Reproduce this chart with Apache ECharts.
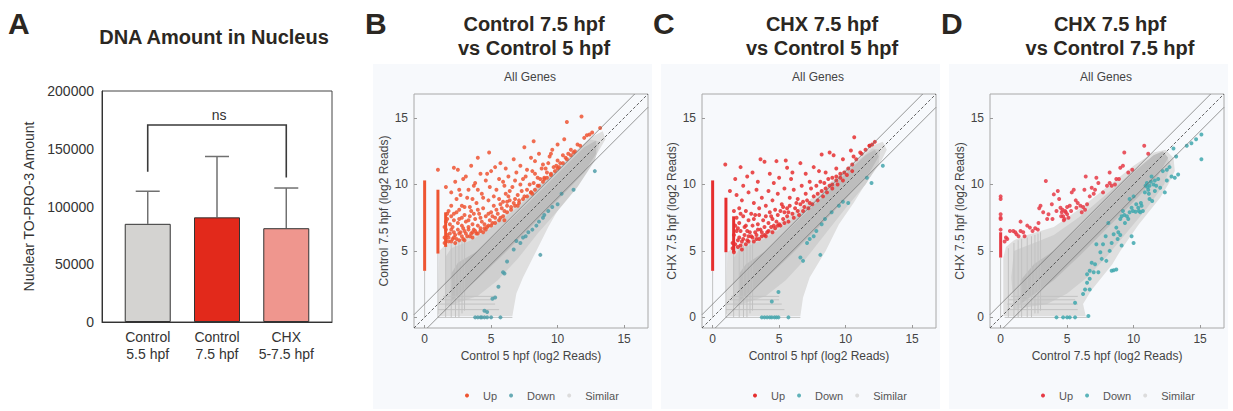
<!DOCTYPE html>
<html>
<head>
<meta charset="utf-8">
<script src="https://cdn.jsdelivr.net/npm/echarts@6/dist/echarts.min.js"></script>
<style>
  html, body { margin: 0; background: #fff; }
  #chart { width: 1233px; height: 411px; }
</style>
</head>
<body>
<div id="chart"></div>
<script>
// ---- panel A : DNA amount bars ----
const barCats = ['Control\n5.5 hpf', 'Control\n7.5 hpf', 'CHX\n5-7.5 hpf'];
const barMeans = [85000, 90600, 81200];
const barErrTop = [113200, 143300, 116000];
const barColors = ['#d4d3d1', '#e2291b', '#ef968e'];
const nsBracket = [[1, 130000], [1, 170500], [3, 170500], [3, 125200]];
const nsLabelAt = [2.03, 179000];

// ---- scatter panels: axis range and guide lines (y = x + k) ----
const LOG_MIN = -0.8, LOG_MAX = 16.8;
const logTicks = [0, 5, 10, 15];
const diagOffsets = [1, 0, -1];

// ---- panel B: Control 7.5 vs Control 5 ----
const bOuter = [[1.2,0.1],[6.6,0.1],[6.9,1.8],[7.4,3.0],[8.4,5.0],[9.3,6.8],[10.1,8.2],[11.0,9.5],[12.0,10.8],[12.9,12.2],[13.6,13.4],[13.4,14.0],[12.6,13.6],[11.0,12.2],[9.0,10.4],[7.0,8.6],[6.0,7.8],[5.0,7.1],[4.0,6.5],[3.0,6.0],[2.0,5.6],[1.5,5.4],[1.1,5.0],[1.0,0.3]];
const bMid = [[1.6,0.8],[4.0,1.6],[5.5,2.8],[7.0,4.4],[8.5,6.3],[10.0,8.0],[11.5,9.8],[12.8,11.8],[13.2,13.2],[12.4,13.4],[11.0,12.0],[9.0,10.2],[7.0,8.3],[5.0,6.7],[3.5,5.8],[2.0,5.2],[1.6,4.6]];
const bCore = [[2.0,1.2],[4.0,2.9],[6.0,4.8],[8.0,6.8],[10.0,8.8],[12.0,10.9],[12.9,12.3],[12.9,13.3],[12.0,12.8],[10.0,10.8],[8.0,8.8],[6.0,6.9],[4.0,5.0],[2.5,4.1],[2.0,3.3]];
const bStreakV = [[0,0,3.5],[1,0,5.0],[1.58,0,5.3],[2,0,5.5],[2.32,0,5.6],[2.58,0,5.7],[2.81,0.3,5.8],[3,0.5,5.9]];
const bStreakH = [[0,1,6.6],[0.58,1,5.6],[1,1,5.3],[1.32,1.2,5.0],[1.58,1.4,5.2]];
const bUpCols = [[0,3.5,10.3],[1,4.8,9.6],[1.58,5.3,7.9]];
const bUp = [
  [1.5,6.0],[1.6,6.6],[1.6,7.2],[1.7,7.8],[1.8,5.7],[1.9,6.3],[1.9,7.0],[2.0,7.6],[2.1,5.9],[2.1,6.8],[2.2,7.3],[2.3,6.2],[2.3,5.6],[2.4,7.9],[2.5,6.6],[2.5,7.1],[2.6,5.8],[2.7,6.4],[2.8,7.5],[2.8,6.9],[2.9,5.9],[3.0,6.5],[3.0,8.3],[3.1,7.2],[3.2,6.1],[3.3,6.8],[3.4,7.6],[3.5,6.3],[3.5,8.0],[3.6,7.0],[3.7,6.6],[3.8,7.4],[3.9,8.6],[4.0,6.9],[4.1,7.8],[4.2,6.5],[4.3,7.2],[4.4,8.2],[4.5,7.0],[4.6,7.6],[4.7,6.8],[4.8,8.8],[4.9,7.3],[5.0,7.9],[5.1,7.1],[5.2,8.4],[5.3,7.5],[5.5,7.8],[5.6,8.9],[5.7,7.5],[5.8,8.2],[6.0,8.0],[6.1,9.3],[6.2,8.4],[6.4,8.8],[6.5,8.3],[6.6,9.8],[6.8,8.9],[7.0,9.2],[7.1,8.8],[7.3,9.5],[7.4,10.4],[7.5,9.1],[7.7,9.6],[7.9,10.0],[8.0,9.4],[8.2,10.1],[8.3,10.8],[8.5,9.9],[8.7,10.4],[8.8,11.2],[9.0,10.5],[9.2,10.9],[9.3,11.6],[9.5,10.8],[9.7,11.3],[9.9,11.4],[10.0,11.8],[10.2,11.6],[10.4,12.2],[10.6,12.0],[10.8,12.3],[11.0,12.6],[11.2,12.4],[11.5,13.0],[11.7,12.9],[12.0,13.5],[12.2,13.7],[12.6,13.9],[13.2,14.25],
  [1.0,11.1],[1.6,9.8],[2.2,11.25],[2.5,11.1],[2.3,10.2],[2.0,9.4],[2.7,9.2],[2.9,10.4],[3.1,10.6],[3.3,9.6],[3.5,11.4],[3.7,9.9],[4.0,12.0],[4.2,10.8],[4.3,9.3],[4.6,10.3],[4.85,12.4],[5.0,11.0],[5.3,11.3],[5.4,9.6],[5.7,11.6],[5.9,10.2],[6.1,11.2],[6.3,10.6],[6.7,11.9],[6.9,10.9],[7.2,11.4],[7.5,12.8],[7.7,11.1],[8.0,12.0],[8.2,13.25],[8.3,11.75],[8.6,12.3],[8.9,11.5],[9.4,12.1],[9.5,12.3],[9.6,12.6],[10.0,13.0],[10.5,13.4],[10.7,14.7],[11.8,15.1],[12.4,13.75],
  [2.0,8.4],[2.4,8.9],[2.6,9.6],[3.2,9.0],[3.6,8.9],[4.0,9.6],[4.4,9.0],[4.9,9.8],[5.2,9.1],[5.6,10.4],[6.0,9.9],[6.4,9.5],[6.8,10.3],[7.2,10.0],[3.8,10.1],[4.7,10.8],[2.8,8.4],[3.4,8.3],[5.9,8.7],[6.3,9.1],[7.6,10.6],[8.1,11.0],[8.5,10.5],[9.1,11.2],
  [1.7,6.2],[2.0,6.6],[2.2,6.0],[2.6,7.4],[2.9,6.7],[3.3,7.3],[3.6,6.0],[3.9,6.3],[4.2,7.5],[4.5,6.7],[4.8,7.8],[5.1,7.6],[5.4,8.1],[5.7,8.5],[6.2,8.7],[6.7,8.6],
  [5.0,6.9],[5.3,7.1],[5.6,7.3],[5.9,7.6],[6.2,7.9],[6.5,8.1],[6.8,8.4],[7.1,8.6],[7.4,8.9],[7.7,9.1],[8.0,9.4],[8.3,9.6],[8.6,9.9],[8.9,10.2],[9.2,10.5],[9.5,10.7],[9.8,11.0],[10.1,11.3],[10.4,11.6],[10.7,11.9],[11.0,12.2],[11.3,12.5],[6.0,7.3],[7.0,8.4],[8.1,9.3],[9.0,10.4],[10.0,11.2],
  [1.5,5.6],[1.6,5.9],[1.8,6.0],[2.0,5.7],[2.2,6.4],[2.4,5.9],[2.6,6.3],[2.8,6.1],[3.0,5.8],[3.1,6.3],[3.3,6.6],[3.4,6.1],[3.6,6.4],[3.8,6.5],[4.0,6.3],[4.2,6.7],[4.4,6.4],[4.6,6.6],[4.8,6.9],[1.5,6.8],[1.7,7.4],[1.8,8.0],[2.2,7.8],[2.6,8.1],[3.0,7.7],[3.7,7.8],[4.0,8.1]
];
const bDown = [[12.8,11.0],[11.2,9.6],[10.3,9.3],[10.0,8.5],[9.6,8.3],[9.3,8.0],[9.0,7.7],[8.9,7.5],[8.6,7.2],[8.4,6.9],[8.1,6.6],[7.8,6.4],[7.6,6.1],[7.4,6.0],[7.2,5.6],[6.9,5.75],[6.7,5.1],[8.7,4.7],[6.2,4.2],[5.9,3.4],[6.0,3.3],[5.55,2.3],[5.3,1.5],[5.1,1.4],[4.7,0.4],[4.5,0.5],[3.8,0],[4.0,0],[4.2,0],[4.3,0],[4.5,0],[4.7,0],[5.0,0],[5.7,0]];

// ---- panel C: CHX 7.5 vs Control 5 ----
const cOuter = [[1.2,0.1],[6.6,0.1],[6.8,1.5],[7.3,3.0],[8.5,5.0],[9.5,7.0],[10.6,8.6],[11.6,10.2],[12.6,11.6],[13.1,12.6],[12.8,13.2],[12.0,12.9],[10.5,11.6],[9.0,10.3],[7.5,9.0],[6.0,7.8],[5.0,7.1],[4.0,6.4],[3.0,5.9],[2.0,5.5],[1.5,5.2],[1.1,4.9],[1.0,0.3]];
const cMid = [[1.6,0.8],[4.0,1.6],[5.5,2.8],[7.0,4.4],[8.5,6.3],[10.0,8.2],[11.5,10.0],[12.5,11.6],[12.6,12.6],[12.0,12.7],[10.5,11.4],[9.0,10.0],[7.0,8.2],[5.0,6.6],[3.5,5.7],[2.0,5.1],[1.6,4.5]];
const cCore = [[2.0,1.2],[4.0,2.9],[6.0,4.8],[8.0,6.8],[10.0,8.9],[11.8,10.9],[12.5,12.1],[12.2,12.6],[11.5,12.2],[10.0,10.8],[8.0,8.8],[6.0,6.9],[4.0,5.0],[2.5,4.0],[2.0,3.3]];
const cStreakV = [[0,0,3.5],[1,0,4.9],[1.58,0,5.0],[2,0,5.3],[2.32,0,5.4],[2.58,0,5.5],[2.81,0.3,5.6],[3,0.5,5.7]];
const cStreakH = [[0,1,6.6],[0.58,1,5.4],[1,1,5.2],[1.32,1.2,5.0],[1.58,1.4,5.0]];
const cUpCols = [[0,3.5,10.3],[1,4.9,9.0],[1.58,4.9,7.6]];
const cUp = [
  [0.95,11.5],[1.7,10.4],[2.1,11.3],[2.6,10.6],[3.6,11.9],[3.9,11.7],[4.8,11.75],[5.5,11.8],[5.6,11.25],[6.6,11.6],[7.6,11.3],[8.2,12.25],[8.8,12.4],[9.1,12.2],[9.8,11.9],[10.65,13.55],[10.4,12.55],[10.6,12.1],[11.1,12.4],[11.8,12.9],[3.0,10.9],[4.3,10.8],[5.0,10.5],[6.0,10.9],[7.0,10.8],[8.0,11.0],[2.3,9.9],[3.4,10.2],[4.6,10.1],[5.9,10.4],[7.3,10.2],[8.5,10.9],[9.3,11.2],[9.6,10.8],
  [1.3,9.5],[1.8,9.2],[2.2,8.8],[2.7,9.4],[3.1,8.6],[3.3,9.6],[3.7,9.0],[4.0,8.4],[4.2,9.5],[4.5,8.8],[4.9,9.3],[5.2,8.5],[5.4,9.7],[5.8,9.0],[6.1,9.6],[6.4,8.9],[6.7,9.9],[7.0,9.3],[7.4,9.7],[7.8,9.9],[8.1,10.2],[8.4,10.1],[8.7,10.4],[9.0,10.5],[9.3,10.6],[2.0,8.2],[2.5,8.0],[3.5,8.2],[5.6,8.2],[6.8,8.7],
  [1.5,5.6],[1.6,6.2],[1.7,6.9],[1.8,7.5],[1.9,5.3],[2.0,6.0],[2.0,7.1],[2.1,6.5],[2.2,5.7],[2.3,7.6],[2.4,6.2],[2.5,6.9],[2.6,5.8],[2.7,7.3],[2.8,6.4],[2.9,7.8],[3.0,6.0],[3.0,6.9],[3.1,7.4],[3.2,6.4],[3.3,5.9],[3.4,7.0],[3.5,7.7],[3.6,6.6],[3.7,6.1],[3.8,7.3],[3.9,6.8],[4.0,7.6],[4.1,6.4],[4.2,7.1],[4.3,7.9],[4.4,6.8],[4.5,7.4],[4.6,6.9],[4.7,8.1],[4.8,7.2],[4.9,7.7],[5.0,7.0],[5.1,8.0],[5.3,7.4],[5.4,7.9],[5.6,7.6],[5.8,8.4],[6.0,7.8],[6.2,8.2],[6.4,8.0],[6.6,8.5],[6.9,8.3],[7.1,8.8],[7.3,8.6],[7.6,9.1],[7.9,9.3],[8.2,9.5],[8.5,9.7],[8.8,9.9],[9.0,10.0],[9.3,10.3],[9.6,10.5],[9.9,10.9],[10.2,11.2],[10.5,11.5],[10.8,11.9],[11.2,12.3],[11.5,12.6],[11.8,12.9],[12.0,13.0],[12.2,13.2],[1.6,4.9],[2.2,5.1],
  [1.8,6.5],[2.4,6.8],[2.7,6.1],[3.2,7.7],[3.9,6.2],[4.4,7.6],[4.9,6.9],[5.3,8.3],[5.7,7.9],[6.3,8.6],
  [1.5,5.2],[1.7,5.5],[1.9,5.8],[2.1,5.4],[2.3,5.9],[2.5,5.5],[2.7,5.7],[2.9,6.1],[3.1,5.7],[3.3,6.2],[3.5,5.9],[3.7,6.4],[4.0,6.1],[4.2,6.5],[4.5,6.4],[4.7,6.7],[5.1,6.9],[5.4,7.1],[5.7,7.2],[6.1,7.5],[6.5,7.7],[6.8,8.0],[7.2,8.2],[7.5,8.5],[7.9,8.8],[8.3,9.1],[8.6,9.4],[9.0,9.7],[9.4,10.0],[9.8,10.3],[10.1,10.7],[10.5,11.0],[1.9,6.7],[2.6,6.5],[3.4,6.6],[1.6,8.0],[2.1,7.8]
];
const cDown = [[12.8,11.4],[11.6,10.5],[11.95,10.1],[10.2,8.6],[9.8,8.7],[9.5,8.4],[8.95,7.9],[8.45,7.4],[8.2,7.0],[7.8,6.5],[7.6,6.1],[7.3,5.9],[7.1,5.6],[8.1,4.7],[6.6,4.5],[6.8,4.25],[4.95,1.9],[4.45,1.2],[3.7,0],[3.9,0],[4.1,0],[4.3,0],[4.45,0],[4.65,0],[4.8,0],[4.95,0],[5.7,0]];

// ---- panel D: CHX 7.5 vs Control 7.5 ----
const dOuter = [[0.2,0.1],[6.4,0.1],[6.2,1.0],[6.8,2.0],[7.6,3.0],[8.4,4.0],[9.0,5.0],[9.7,6.0],[10.4,7.0],[11.2,8.0],[12.0,9.0],[12.6,10.0],[13.1,11.0],[13.0,12.0],[12.4,12.6],[11.5,12.4],[10.0,11.4],[8.0,9.8],[6.0,8.2],[5.0,7.5],[4.0,6.8],[3.0,6.5],[2.0,6.2],[1.0,5.8],[0.4,5.3],[0.2,4.5]];
const dMid = [[1.0,0.6],[3.5,1.0],[5.0,1.8],[6.5,3.0],[8.0,4.6],[9.5,6.4],[11.0,8.2],[12.3,10.0],[12.8,11.5],[12.3,12.4],[11.0,11.8],[9.5,10.6],[8.0,9.3],[6.0,7.6],[4.0,6.2],[2.5,5.6],[1.0,5.0],[0.8,3.0]];
const dCore = [[1.5,1.0],[4.0,2.8],[6.0,4.7],[8.0,6.7],[10.0,8.7],[11.8,10.6],[12.6,12.0],[12.2,12.5],[11.5,12.2],[10.0,10.9],[8.0,8.9],[6.0,6.9],[4.0,5.0],[2.5,4.0],[1.5,2.8]];
const dStreakV = [[0,0,4.5],[0.58,0,5.2],[1,0,5.6],[1.32,0,5.8],[1.58,0,5.9],[2,0,6.0],[2.32,0,6.1],[2.58,0.3,6.2],[2.81,0.3,6.3],[3,0.5,6.4]];
const dStreakH = [[0,0.3,6.5],[0.58,0.5,5.8],[1,0.5,5.8],[1.32,0.6,5.6],[1.58,0.8,5.8]];
const dUpCols = [[0,4.5,6.4]];
const dUp = [
  [0.5,5.9],[0.7,6.5],[0.95,6.5],[1.2,6.25],[1.35,6.1],[1.5,6.5],[1.5,7.2],[1.7,6.4],[2.0,6.9],[2.2,6.75],[2.6,6.7],[2.8,6.6],[2.85,7.1],[3.0,8.4],[3.2,7.9],[3.4,10.25],[3.5,7.4],[3.6,7.75],[3.85,8.5],[4.0,9.25],[4.3,9.5],[4.4,8.9],[4.5,8.25],[4.6,7.9],[4.7,7.6],[4.8,7.4],[4.85,8.0],[5.0,7.75],[5.0,8.3],[5.2,8.4],[5.35,9.4],[5.5,9.6],[5.65,8.8],[5.7,8.25],[6.0,8.4],[6.1,7.9],[6.3,9.6],[6.4,10.6],[6.5,8.5],[6.7,9.1],[6.85,9.75],[7.1,9.6],[7.2,10.5],[7.35,10.1],[7.7,9.4],[8.0,9.9],[8.2,10.9],[8.2,10.1],[8.35,9.9],[8.7,10.4],[8.9,10.4],[9.0,11.25],[9.3,12.4],[9.9,11.1],[10.8,12.9],[11.1,12.3],[9.2,11.4],[4.55,7.6],[4.65,8.1],[4.75,7.3],[4.9,7.9],[5.1,7.5],[5.3,8.0],[5.8,8.6],[6.2,8.3],[6.35,8.1],[4.2,8.0],[3.9,7.4],[1.1,6.4],[1.8,6.1],[2.4,6.5],[0.3,5.7],[0.4,6.0],[2.9,8.2],[7.0,9.3],[8.6,10.0],[9.6,10.9],
  [0,7.4],[0,7.5],[0,7.75],[0,8.9],[0,9.1],[0,6.6]
];
const dDown = [[15.1,11.9],[15.1,13.75],[14.7,13.4],[14.35,13.1],[14.0,12.9],[13.35,10.75],[13.1,10.5],[12.85,10.6],[13.2,12.1],[12.7,11.3],[12.35,9.4],[12.0,9.75],[11.85,10.4],[11.6,9.5],[11.35,10.6],[11.2,9.9],[11.1,9.6],[11.0,10.1],[10.85,9.4],[11.4,8.75],[11.2,8.9],[10.7,8.0],[10.5,7.9],[10.35,8.25],[10.2,8.5],[10.0,9.1],[9.7,8.9],[9.85,8.25],[9.7,7.9],[9.5,7.6],[9.35,7.1],[9.2,8.0],[9.1,7.6],[9.0,7.4],[10.0,5.6],[9.85,6.1],[9.1,5.4],[8.85,6.4],[8.7,6.75],[8.5,6.25],[8.35,5.6],[8.2,5.0],[8.1,7.1],[7.9,6.1],[7.7,5.5],[7.5,4.9],[7.2,5.5],[7.6,4.4],[7.95,4.25],[7.1,4.0],[6.85,4.1],[6.7,3.5],[6.5,3.25],[8.7,3.6],[8.5,3.55],[8.35,3.5],[7.35,3.4],[7.0,3.4],[6.7,2.9],[6.5,2.6],[6.35,2.1],[6.2,1.75],[6.7,2.1],[5.6,1.1],[6.6,0.1],[5.6,0],[5.2,0],[5.0,0],[4.7,0],[4.2,0],[11.05,9.8],[11.3,10.2],[11.5,10.0],[11.7,9.9],[11.6,10.3],[10.9,9.9],[11.15,9.3],[10.6,8.4],[10.4,8.0],[10.15,7.95],[10.55,8.6],[9.95,8.0],[9.6,7.4],[9.3,7.7],[12.2,11.0],[12.5,11.1],[13.0,12.7],[12.5,10.3],[8.8,5.9],[9.0,6.2]];

const FONT = '"Liberation Sans", Arial, sans-serif';
const INK = '#2b2722';

const panels = [
  {
    left: 414, letter: 'B', title: 'Control 7.5 hpf\nvs Control 5 hpf',
    xName: 'Control 5 hpf (log2 Reads)', yName: 'Control 7.5 hpf (log2 Reads)',
    upColor: '#ee5532', downColor: '#4f9ea8',
    outer: bOuter, mid: bMid, core: bCore, streakV: bStreakV, streakH: bStreakH,
    upCols: bUpCols, up: bUp, down: bDown
  },
  {
    left: 702, letter: 'C', title: 'CHX 7.5 hpf\nvs Control 5 hpf',
    xName: 'Control 5 hpf (log2 Reads)', yName: 'CHX 7.5 hpf (log2 Reads)',
    upColor: '#e62f2f', downColor: '#45a6ad',
    outer: cOuter, mid: cMid, core: cCore, streakV: cStreakV, streakH: cStreakH,
    upCols: cUpCols, up: cUp, down: cDown
  },
  {
    left: 990, letter: 'D', title: 'CHX 7.5 hpf\nvs Control 7.5 hpf',
    xName: 'Control 7.5 hpf (log2 Reads)', yName: 'CHX 7.5 hpf (log2 Reads)',
    upColor: '#e63a45', downColor: '#3fa8ae',
    outer: dOuter, mid: dMid, core: dCore, streakV: dStreakV, streakH: dStreakH,
    upCols: dUpCols, up: dUp, down: dDown
  }
];

const BOX = 234;

// shapes drawn through the axis scales by a custom series
function cloudShapes(p) {
  const s = [
    { pts: p.outer, color: '#dfdfdf' },
    { pts: p.mid, color: '#cfcfcf' },
    { pts: p.core, color: '#bdbdbd' }
  ];
  p.streakV.forEach(v => s.push({ a: [v[0], v[1]], b: [v[0], v[2]], color: '#c2c2c2', w: 1 }));
  p.streakH.forEach(h => s.push({ a: [h[1], h[0]], b: [h[2], h[0]], color: '#c2c2c2', w: 1 }));
  return s;
}

function shapeSeries(name, idx, shapes, legendColor) {
  return {
    name, type: 'custom', coordinateSystem: 'cartesian2d',
    xAxisIndex: idx, yAxisIndex: idx, silent: true,
    itemStyle: { color: legendColor },
    data: shapes.map(() => [0, 0]),
    renderItem: (params, api) => {
      const s = shapes[params.dataIndex];
      if (s.pts) {
        return { type: 'polygon', shape: { points: s.pts.map(q => api.coord(q)) }, style: { fill: s.color } };
      }
      const a = api.coord(s.a), b = api.coord(s.b);
      return {
        type: 'line', shape: { x1: a[0], y1: a[1], x2: b[0], y2: b[1] },
        style: { stroke: s.color, lineWidth: s.w }
      };
    }
  };
}

const grids = [{ left: 102, top: 91, width: 230, height: 231, show: true, borderColor: '#444', borderWidth: 1 }];
const xAxes = [{
  gridIndex: 0, type: 'value', min: 0.34, max: 3.66,
  splitLine: { show: false }, axisLine: { onZero: false, lineStyle: { color: '#333' } }, axisTick: { show: false },
  axisLabel: {
    customValues: [1, 2, 3], formatter: v => barCats[Math.round(v) - 1],
    fontFamily: FONT, fontSize: 14, color: '#333', lineHeight: 17, margin: 6
  }
}];
const yAxes = [{
  gridIndex: 0, type: 'value', min: 0, max: 200000, interval: 50000,
  splitLine: { show: false }, axisLine: { show: true, onZero: false, lineStyle: { color: '#333' } }, axisTick: { show: false },
  axisLabel: { fontFamily: FONT, fontSize: 14, color: '#333', margin: 8, formatter: v => String(v) },
  name: 'Nuclear TO-PRO-3 Amount', nameLocation: 'middle', nameGap: 66,
  nameTextStyle: { fontFamily: FONT, fontSize: 14, color: '#333' }
}];

const series = [
  {
    name: 'DNA', type: 'bar', xAxisIndex: 0, yAxisIndex: 0, barWidth: 46,
    itemStyle: { borderColor: '#333', borderWidth: 1 },
    data: barMeans.map((v, i) => ({ value: [i + 1, v], itemStyle: { color: barColors[i] } })),
    z: 3
  },
  {
    name: 'err', type: 'custom', xAxisIndex: 0, yAxisIndex: 0, silent: true,
    data: barMeans.map((v, i) => [i + 1, v, barErrTop[i]]),
    renderItem: (params, api) => {
      const lo = api.coord([api.value(0), api.value(1)]);
      const hi = api.coord([api.value(0), api.value(2)]);
      const st = { stroke: '#707070', lineWidth: 1.5 };
      return {
        type: 'group', children: [
          { type: 'line', shape: { x1: lo[0], y1: lo[1], x2: hi[0], y2: hi[1] }, style: st },
          { type: 'line', shape: { x1: hi[0] - 12, y1: hi[1], x2: hi[0] + 12, y2: hi[1] }, style: st }
        ]
      };
    },
    z: 2
  },
  {
    name: 'ns', type: 'custom', xAxisIndex: 0, yAxisIndex: 0, silent: true,
    data: [[2, 170000]],
    renderItem: (params, api) => {
      const t = api.coord(nsLabelAt);
      return {
        type: 'group', children: [
          { type: 'polyline', shape: { points: nsBracket.map(q => api.coord(q)) }, style: { stroke: '#3a3a3a', lineWidth: 1.6, fill: null } },
          { type: 'text', x: t[0], y: t[1], style: { text: 'ns', font: '14px ' + FONT, fill: '#333', align: 'center', verticalAlign: 'middle' } }
        ]
      };
    }
  }
];

const legends = [];
const graphics = [
  { type: 'text', x: 8, y: 23, z: 10, style: { text: 'A', font: 'bold 30px ' + FONT, fill: INK, verticalAlign: 'middle' } },
  { type: 'text', x: 214, y: 37, z: 10, style: { text: 'DNA Amount in Nucleus', font: 'bold 20px ' + FONT, fill: INK, align: 'center', verticalAlign: 'middle' } }
];

panels.forEach((p, k) => {
  const idx = k + 1;
  const cx = p.left + BOX / 2;
  graphics.push(
    { type: 'rect', z: -10, shape: { x: p.left - 41, y: 64, width: 279, height: 345 }, style: { fill: '#f7f9fc' } },
    { type: 'text', x: p.left - 49, y: 23, z: 10, style: { text: p.letter, font: 'bold 30px ' + FONT, fill: INK, verticalAlign: 'middle' } },
    { type: 'text', x: cx + 3, y: 24, z: 10, style: { text: p.title.split('\n')[0], font: 'bold 20px ' + FONT, fill: INK, align: 'center', verticalAlign: 'middle' } },
    { type: 'text', x: cx + 3, y: 48, z: 10, style: { text: p.title.split('\n')[1], font: 'bold 20px ' + FONT, fill: INK, align: 'center', verticalAlign: 'middle' } },
    { type: 'text', x: cx - 1, y: 77, z: 10, style: { text: 'All Genes', font: '12px ' + FONT, fill: '#444', align: 'center', verticalAlign: 'middle' } }
  );
  grids.push({ left: p.left, top: 94, width: BOX, height: BOX, show: true, borderColor: '#a8a8a8', borderWidth: 1 });
  const axisBase = {
    gridIndex: idx, type: 'value', min: LOG_MIN, max: LOG_MAX,
    splitLine: { show: false }, axisLine: { show: false, onZero: false },
    axisTick: { show: true, inside: true, length: 3, customValues: logTicks, lineStyle: { color: '#999' } },
    nameLocation: 'middle',
    nameTextStyle: { fontFamily: FONT, fontSize: 12, color: '#444' }
  };
  xAxes.push(Object.assign({}, axisBase, {
    name: p.xName, nameGap: 22,
    axisLabel: { customValues: logTicks, fontFamily: FONT, fontSize: 12, color: '#444', margin: 5 }
  }));
  yAxes.push(Object.assign({}, axisBase, {
    name: p.yName, nameGap: 24,
    axisLabel: { customValues: logTicks, fontFamily: FONT, fontSize: 12, color: '#444', margin: 6 }
  }));

  series.push(shapeSeries('Similar', idx, cloudShapes(p), '#e4e4e4'));
  series.push(shapeSeries('Up', idx, p.upCols.map(c => ({ a: [c[0], c[1]], b: [c[0], c[2]], color: p.upColor, w: 3 })), p.upColor));
  series.push({
    name: 'Up', type: 'scatter', xAxisIndex: idx, yAxisIndex: idx, symbolSize: 4,
    itemStyle: { color: p.upColor, opacity: 0.85 }, data: p.up
  });
  series.push({
    name: 'Down', type: 'scatter', xAxisIndex: idx, yAxisIndex: idx, symbolSize: 4,
    itemStyle: { color: p.downColor, opacity: 0.85 }, data: p.down
  });
  diagOffsets.forEach(off => {
    const x0 = Math.max(LOG_MIN, LOG_MIN - off), x1 = Math.min(LOG_MAX, LOG_MAX - off);
    series.push({
      name: 'diag', type: 'line', xAxisIndex: idx, yAxisIndex: idx, symbol: 'none', silent: true,
      lineStyle: off === 0
        ? { color: '#3a3a3a', width: 0.8, type: [3, 2] }
        : { color: '#6a6a6a', width: 0.7 },
      data: [[x0, x0 + off], [x1, x1 + off]], z: 4
    });
  });

  legends.push({
    left: p.left + 46, top: 385, orient: 'horizontal',
    itemWidth: 4, itemHeight: 4, itemGap: 12, icon: 'circle',
    textStyle: { fontFamily: FONT, fontSize: 11, color: '#555', padding: [0, 0, 0, 9] },
    selectedMode: false,
    data: [
      { name: 'Up', itemStyle: { color: p.upColor } },
      { name: 'Down', itemStyle: { color: p.downColor } },
      { name: 'Similar', itemStyle: { color: '#dcdcdc' } }
    ]
  });
});

const chart = echarts.init(document.getElementById('chart'), null, { renderer: 'svg' });
chart.setOption({
  animation: false,
  backgroundColor: '#ffffff',
  grid: grids,
  xAxis: xAxes,
  yAxis: yAxes,
  legend: legends,
  graphic: graphics,
  series
});
</script>
</body>
</html>
